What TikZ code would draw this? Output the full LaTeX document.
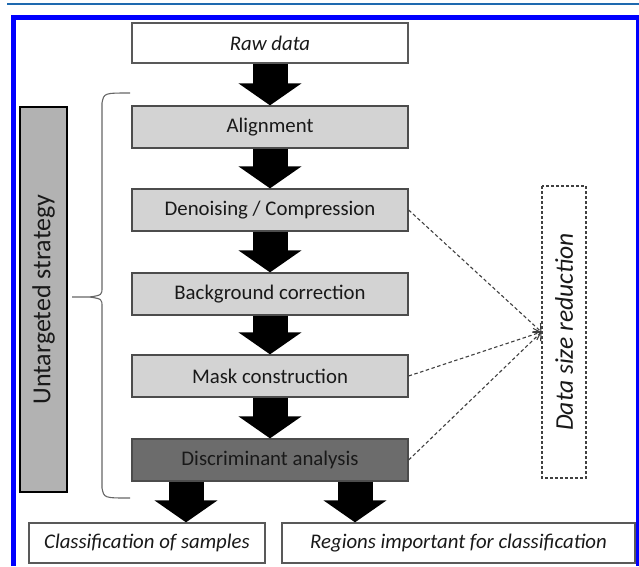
\documentclass[tikz,border=0pt]{standalone}
\usepackage{fontspec}
\setmainfont{Carlito}
\usetikzlibrary{positioning,calc,arrows.meta}
\definecolor{frameblue}{RGB}{0,0,255}
\definecolor{ruleblue}{RGB}{30,105,175}
\definecolor{boxgray}{RGB}{211,211,211}
\definecolor{discgray}{RGB}{108,108,108}

\begin{document}
\begin{tikzpicture}[
    x=1pt, y=-1pt,
    Pbox/.style={draw=black!70, fill=boxgray, line width=1.3pt, minimum width=276pt, minimum height=42pt, inner sep=0pt, font=\fontsize{20.8}{24}\selectfont, text=black!90},
    Dbox/.style={Pbox, fill=discgray},
    Obox/.style={draw=black!65, fill=white, line width=1.3pt, minimum height=40pt, inner sep=0pt, font=\fontsize{20.8}{24}\selectfont\itshape, text=black!90},
    Ubox/.style={draw=black, fill=black!30, line width=2.5pt, rotate=90, minimum width=385pt, minimum height=47pt, inner sep=0pt, font=\fontsize{26}{30}\selectfont, text=black!90},
    Rdbox/.style={draw=black!75, dash pattern=on 3pt off 2pt, line width=1.1pt, rotate=90, minimum width=292pt, minimum height=44pt, inner sep=0pt, font=\fontsize{25.5}{30}\selectfont\itshape, text=black!90},
    bigarr/.style={line width=35pt, -{Triangle[length=22pt, width=62pt]}},
    dasharr/.style={draw=black!75, line width=1.1pt, dash pattern=on 3.5pt off 2.5pt, -{Straight Barb[length=6pt, width=12pt]}},
    brc/.style={draw=black!60, line width=1.1pt},
]
\useasboundingbox (0,0) rectangle (639,566);
% frame
\draw[ruleblue, line width=2.2pt] (7,4) -- (639,4);
\draw[frameblue, line width=5pt] (13.5,566) -- (13.5,17.5) -- (639,17.5);
\draw[frameblue, line width=3pt] (637.5,17.5) -- (637.5,566);
% main chain
\node[Obox, minimum width=276pt] (raw) at (270,43) {Raw data};
\node[Pbox] (align) at (270,127) {Alignment};
\node[Pbox] (denoise) at (270,210) {Denoising / Compression};
\node[Pbox] (backgr) at (270,294) {Background correction};
\node[Pbox] (mask) at (270,376) {Mask construction};
\node[Dbox] (discr) at (270,460) {Discriminant analysis};
\node[Obox, minimum width=236pt] (classif) at (147,543) {Classification of samples};
\node[Obox, minimum width=353pt] (regions) at (458.5,543) {Regions important for classification};
\draw[bigarr] (raw) -- (align);
\draw[bigarr] (align) -- (denoise);
\draw[bigarr] (denoise) -- (backgr);
\draw[bigarr] (backgr) -- (mask);
\draw[bigarr] (mask) -- (discr);
\draw[bigarr] ([xshift=-84pt]discr.south) -- ([xshift=-84pt]discr.south |- classif.north);
\draw[bigarr] ([xshift=85pt]discr.south) -- ([xshift=85pt]discr.south |- regions.north);
% side labels
\node[Ubox] (untarg) at (43.5,299.5) {Untargeted strategy};
\node[Rdbox] (dsr) at (564,332) {Data size reduction};
\draw[dasharr] (denoise.east) -- (dsr.north);
\draw[dasharr] (mask.east) -- (dsr.north);
\draw[dasharr] (discr.east) -- (dsr.north);
% brace
\draw[brc] (130,93) .. controls (104,93) .. (102,103) -- (102,287)
    .. controls (102,295) .. (90,297) -- (72,297);
\draw[brc] (90,297) .. controls (102,299) .. (102,307) -- (102,488)
    .. controls (104,498) .. (130,498);
\end{tikzpicture}
\end{document}
